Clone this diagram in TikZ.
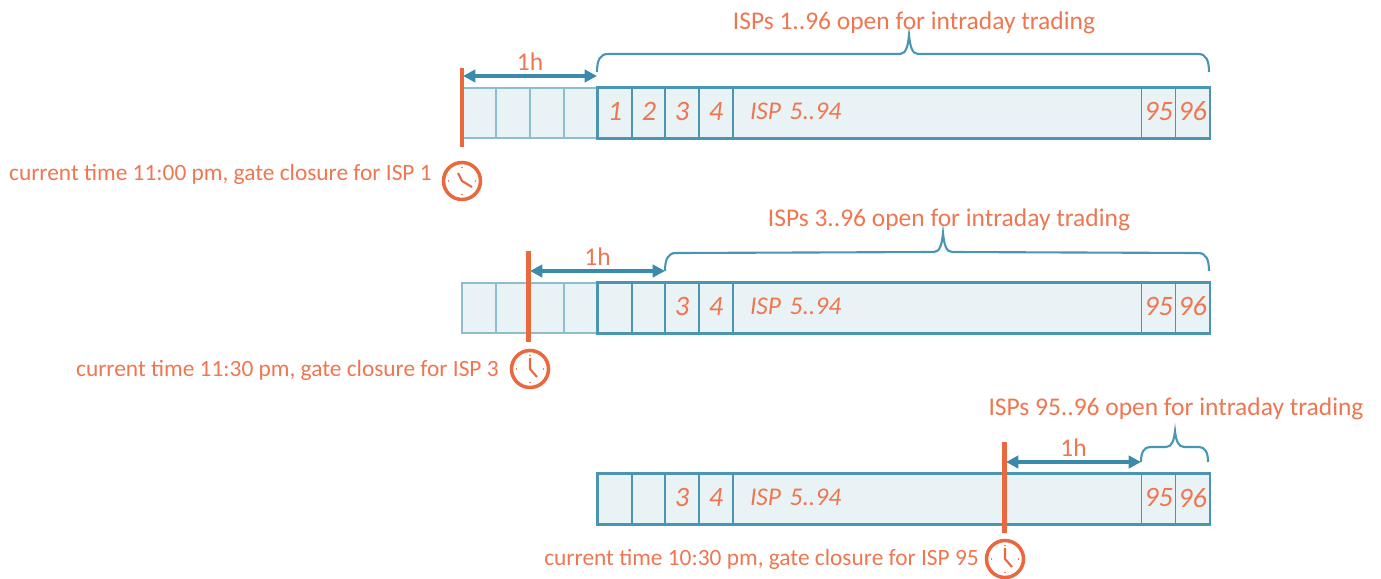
\documentclass[tikz,border=0pt]{standalone}
\usepackage{fontspec}
\setmainfont{Carlito}
\usetikzlibrary{arrows.meta}
\definecolor{cellblue}{HTML}{4A96B2}
\definecolor{paleblue}{HTML}{8DBDCF}
\definecolor{cellfill}{HTML}{E9F2F5}
\definecolor{arrowblue}{HTML}{3A8BAB}
\definecolor{timeorange}{HTML}{E9683E}
\definecolor{textorange}{HTML}{EE7650}
\tikzset{
  cell/.style={draw=cellblue,fill=cellfill,line width=.9pt,minimum width=.68cm,minimum height=1cm,inner sep=0pt,
    text=textorange,text depth=.06cm,font=\fontsize{16}{18}\selectfont\itshape},
  palecell/.style={cell,draw=paleblue},
  widecell/.style={cell,minimum width=8.18cm,text width=7.5cm,inner xsep=.34cm,align=left,font=\fontsize{14.5}{17}\selectfont\itshape},
  rowframe/.style={draw=cellblue,line width=1pt},
  span/.style={arrowblue,line width=2.2pt,{Triangle[length=7pt,width=7pt]}-{Triangle[length=7pt,width=7pt]}},
  timeline/.style={timeorange,line width=2.6pt},
  note/.style={text=textorange,font=\fontsize{14.5}{17}\selectfont,inner sep=0pt},
  timenote/.style={note,anchor=east,font=\fontsize{13.3}{16}\selectfont},
  openbrace/.style={cellblue,line width=1.2pt},
  clockhand/.style={timeorange,line width=1.2pt},
  pics/clockface/.style={code={
    \draw[timeorange,line width=2pt] (0,0) circle [radius=18.5];
    \fill[timeorange] (0,-13.5) circle [radius=.8] (0,13.5) circle [radius=.8]
      (-13.5,0) circle [radius=.8] (13.5,0) circle [radius=.8];
  }}
}
% left end, tip, right end, height of the shoulder
\newcommand{\spanbrace}[4]{
\draw[openbrace] (#1) .. controls ([shift={(0,{-.65*#4})}]#1) and ([shift={(3,-#4)}]#1) .. ([shift={({.6*#4},-#4)}]#1)
  -- ([shift={(-9,{#4+1})}]#2) .. controls ([shift={(-3,{#4+1})}]#2) and ([shift={(-1,{.6*#4})}]#2) .. (#2)
  .. controls ([shift={(1,{.6*#4})}]#2) and ([shift={(3,{#4+1})}]#2) .. ([shift={(9,{#4+1})}]#2)
  -- ([shift={({-.6*#4},-#4)}]#3) .. controls ([shift={(-3,-#4)}]#3) and ([shift={(0,{-.65*#4})}]#3) .. (#3);
}
\begin{document}
\begin{tikzpicture}[x=.02cm,y=-.02cm]
\useasboundingbox (0,0) rectangle (1381,578);

% first row
\begin{scope}
\node[palecell] (a) at (479,113) {};
\node[palecell] (b) at (513,113) {};
\node[palecell] (c) at (547,113) {};
\node[palecell] (d) at (581,113) {};
\node[cell] (n1) at (615,113) {1};
\node[cell] (n2) at (649,113) {2};
\node[cell] (n3) at (682,113) {3};
\node[cell] (n4) at (716,113) {4};
\node[widecell] (nmid) at (937.5,113) {ISP 5..94};
\node[cell] (n95) at (1158.5,113) {95};
\node[cell] (n96) at (1192.5,113) {96};
\draw[rowframe] (n1.north west) rectangle (n96.south east);

\coordinate (ttop) at (462,68);
\coordinate (tbot) at (462,147);
\coordinate (from) at (463,76);
\coordinate (to) at (597,76);
\coordinate (bl) at (597,72);
\coordinate (tip) at (909,35);
\coordinate (br) at (1209,72);
\draw[span] (from) -- (to) node[midway,above=2pt,note] (h) {1h};
\spanbrace{bl}{tip}{br}{18}
\draw[timeline] (ttop) -- (tbot);
\node[note] (open) at (914,23) {ISPs 1..96 open for intraday trading};
\node[timenote] (now) at (432,174) {current time 11:00 pm, gate closure for ISP 1};
\coordinate (clk) at (462,181);
\pic at (clk) {clockface};
\draw[clockhand] (clk) ++(-4,-8) -- (clk) -- ++(10,6);
\end{scope}

% second row, half an hour later
\begin{scope}
\node[palecell] (a) at (479,308) {};
\node[palecell] (b) at (513,308) {};
\node[palecell] (c) at (547,308) {};
\node[palecell] (d) at (581,308) {};
\node[cell] (n1) at (615,308) {};
\node[cell] (n2) at (649,308) {};
\node[cell] (n3) at (682,308) {3};
\node[cell] (n4) at (716,308) {4};
\node[widecell] (nmid) at (937.5,308) {ISP 5..94};
\node[cell] (n95) at (1158.5,308) {95};
\node[cell] (n96) at (1192.5,308) {96};
\draw[rowframe] (n1.north west) rectangle (n96.south east);

\coordinate (ttop) at (528.5,251);
\coordinate (tbot) at (528.5,342);
\coordinate (from) at (530,271);
\coordinate (to) at (665,271);
\coordinate (bl) at (665,271);
\coordinate (tip) at (943,233);
\coordinate (br) at (1209,271);
\draw[span] (from) -- (to) node[midway,above=2pt,note] (h) {1h};
\spanbrace{bl}{tip}{br}{18}
\draw[timeline] (ttop) -- (tbot);
\node[note] (open) at (949,220) {ISPs 3..96 open for intraday trading};
\node[timenote] (now) at (499,370) {current time 11:30 pm, gate closure for ISP 3};
\coordinate (clk) at (530,369);
\pic at (clk) {clockface};
\draw[clockhand] (clk) ++(0,-11) -- (clk) -- ++(7,8);
\end{scope}

% third row, last two ISPs left
\begin{scope}
\node[cell] (n1) at (615,499) {};
\node[cell] (n2) at (649,499) {};
\node[cell] (n3) at (682,499) {3};
\node[cell] (n4) at (716,499) {4};
\node[widecell] (nmid) at (937.5,499) {ISP 5..94};
\node[cell] (n95) at (1158.5,499) {95};
\node[cell] (n96) at (1192.5,499) {96};
\draw[rowframe] (n1.north west) rectangle (n96.south east);

\coordinate (ttop) at (1004.5,442);
\coordinate (tbot) at (1004.5,533);
\coordinate (from) at (1006,462);
\coordinate (to) at (1141,462);
\coordinate (bl) at (1141,462);
\coordinate (tip) at (1175,431);
\coordinate (br) at (1208,462);
\draw[span] (from) -- (to) node[midway,above=2pt,note] (h) {1h};
\spanbrace{bl}{tip}{br}{15}
\draw[timeline] (ttop) -- (tbot);
\node[note] (open) at (1176,409) {ISPs 95..96 open for intraday trading};
\node[timenote] (now) at (979,559) {current time 10:30 pm, gate closure for ISP 95};
\coordinate (clk) at (1005,559);
\pic at (clk) {clockface};
\draw[clockhand] (clk) ++(0,-11) -- (clk) -- ++(7,8);
\end{scope}
\end{tikzpicture}
\end{document}
